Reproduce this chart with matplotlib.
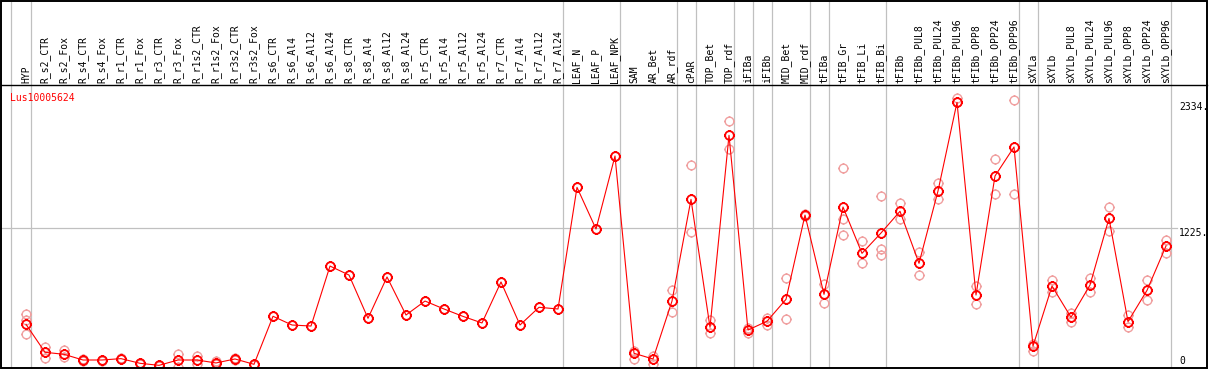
import numpy as np
import matplotlib
matplotlib.use("Agg")
import matplotlib.pyplot as plt
from matplotlib.path import Path
from matplotlib.patches import Rectangle

# sample names (column headers)
samples = [
    "HYP", "R_s2_CTR", "R_s2_Fox", "R_s4_CTR", "R_s4_Fox", "R_r1_CTR", "R_r1_Fox",
    "R_r3_CTR", "R_r3_Fox", "R_r1s2_CTR", "R_r1s2_Fox", "R_r3s2_CTR", "R_r3s2_Fox",
    "R_s6_CTR", "R_s6_Al4", "R_s6_Al12", "R_s6_Al24", "R_s8_CTR", "R_s8_Al4",
    "R_s8_Al12", "R_s8_Al24", "R_r5_CTR", "R_r5_Al4", "R_r5_Al12", "R_r5_Al24",
    "R_r7_CTR", "R_r7_Al4", "R_r7_Al12", "R_r7_Al24", "LEAF_N", "LEAF_P", "LEAF_NPK",
    "SAM", "AR_Bet", "AR_rdf", "cPAR", "TOP_Bet", "TOP_rdf", "iFIBa", "iFIBb",
    "MID_Bet", "MID_rdf", "tFIBa", "tFIB_Gr", "tFIB_Li", "tFIB_Bi", "tFIBb",
    "tFIBb_PUL8", "tFIBb_PUL24", "tFIBb_PUL96", "tFIBb_OPP8", "tFIBb_OPP24",
    "tFIBb_OPP96", "sXYLa", "sXYLb", "sXYLb_PUL8", "sXYLb_PUL24", "sXYLb_PUL96",
    "sXYLb_OPP8", "sXYLb_OPP24", "sXYLb_OPP96",
]

# mean expression per sample
means = [
    380, 134, 116, 66, 66, 78, 37, 19, 66, 66, 40, 75, 28,
    451, 374, 365, 893, 814, 433, 797, 462, 585, 515, 450, 392,
    753, 374, 530, 515, 1586, 1219, 1862,
    125, 75, 585, 1480, 354, 2044, 330, 407, 600, 1342,
    644, 1413, 1005, 1184, 1375, 917, 1554, 2334, 638, 1686, 1941,
    189, 717, 442, 726, 1313, 404, 679, 1070,
]

# individual replicates per sample
replicates = [
    [468, 418, 295], [183, 81], [154, 90], [72, 60], [70, 58], [84, 72], [42, 30],
    [22, 15], [119, 7], [104, 28], [57, 28], [80, 70], [33, 24],
    [455], [378], [368], [897], [818], [437], [800], [466], [588], [518], [453], [395],
    [757], [378], [533], [518], [1590], [1222], [1866],
    [148, 75], [104, 33], [679, 486], [1780, 1193], [418, 301], [2170, 1923],
    [350, 301], [438, 374], [785, 424], [1355, 1330],
    [732, 565], [1753, 1305, 1164], [1111, 917], [1507, 1043, 988], [1448, 1305],
    [1014, 812], [1624, 1480], [2375, 2334], [717, 556], [1833, 1525], [2355, 1525],
    [210, 148], [770, 662], [483, 404], [791, 668], [1413, 1204], [462, 359],
    [768, 594], [1122, 1011],
]

# last sample of each tissue group (separator drawn after it)
group_last = ["HYP", "R_r7_Al24", "LEAF_NPK", "AR_rdf", "cPAR", "TOP_rdf", "iFIBa",
              "iFIBb", "MID_rdf", "tFIBa", "tFIB_Bi", "tFIBb_OPP96", "sXYLa",
              "sXYLb_OPP96"]

y_ticks = [1225, 2334]
gene = "Lus10005624"

mono = "DejaVu Sans Mono"

W, H = 1209, 370
fig = plt.figure(figsize=(W / 100, H / 100), dpi=100)
px_left, px_right, px_top, px_bot = 1, 1207, 85, 367.5
ax = fig.add_axes([px_left / W, (H - px_bot) / H,
                   (px_right - px_left) / W, (px_bot - px_top) / H])

x = np.arange(len(samples))
step = 19.0
ax.set_xlim((px_left - 26) / step, (px_right - 26) / step)
scale = 0.1136
ax.set_ylim(0, (px_bot - px_top) / scale)
ax.set_xticks([])
ax.set_yticks([])
for s in ["left", "right", "bottom"]:
    ax.spines[s].set_visible(False)
ax.spines["top"].set_linewidth(1.0)

grey = "#c0c0c0"
head_top = (px_bot - 0) / (px_bot - px_top)
seps = [-0.78] + [samples.index(s) + 0.24 for s in group_last]
ax.vlines(seps, 0, head_top, transform=ax.get_xaxis_transform(),
          colors=grey, lw=0.9, clip_on=False, zorder=1)
ax.plot([ax.get_xlim()[0], 60.6], [1225, 1225], color=grey, lw=0.9, zorder=1)

# marker: open circle with little ticks
circ = Path.unit_circle()
tk = 1.25
ticks = Path([(0, 1), (0, tk), (0, -1), (0, -tk), (1, 0), (tk, 0), (-1, 0), (-tk, 0)],
             [Path.MOVETO, Path.LINETO] * 4)
mk = Path.make_compound_path(circ, ticks)

for i, reps in enumerate(replicates):
    ax.plot([i] * len(reps), reps, linestyle="none", marker=mk, markersize=7.8,
            mfc="none", mec="#f0a0a0", mew=1.0, zorder=2)

ax.plot(x, means, color="red", lw=0.8, zorder=3)
ax.plot(x, means, linestyle="none", marker=mk, markersize=7.8, mfc="none",
        mec="red", mew=1.3, zorder=4)

# column headers
for i, s in enumerate(samples):
    ax.text(i, 1 + 2 / (px_bot - px_top), s, rotation=90, ha="center", va="bottom",
            transform=ax.get_xaxis_transform(), fontsize=7, family=mono,
            clip_on=False)

ax.text((10 - px_left) / (px_right - px_left), (px_bot - 93) / (px_bot - px_top), gene,
        transform=ax.transAxes, color="red", fontsize=7, family=mono,
        ha="left", va="top")

lab_x = (1179 - 26) / step
for v in y_ticks:
    ax.text(lab_x, v, f"{v}.", fontsize=7, family=mono, ha="left", va="top")
ax.text(lab_x, 14, "0", fontsize=7, family=mono, ha="left", va="bottom")

# outer frame
fig.patches.append(Rectangle((1 / W, (H - 368) / H), (px_right - 1) / W, 367 / H,
                             transform=fig.transFigure, fill=False, ec="black",
                             lw=1.4, zorder=10))

fig.savefig("out.png", dpi=100)
